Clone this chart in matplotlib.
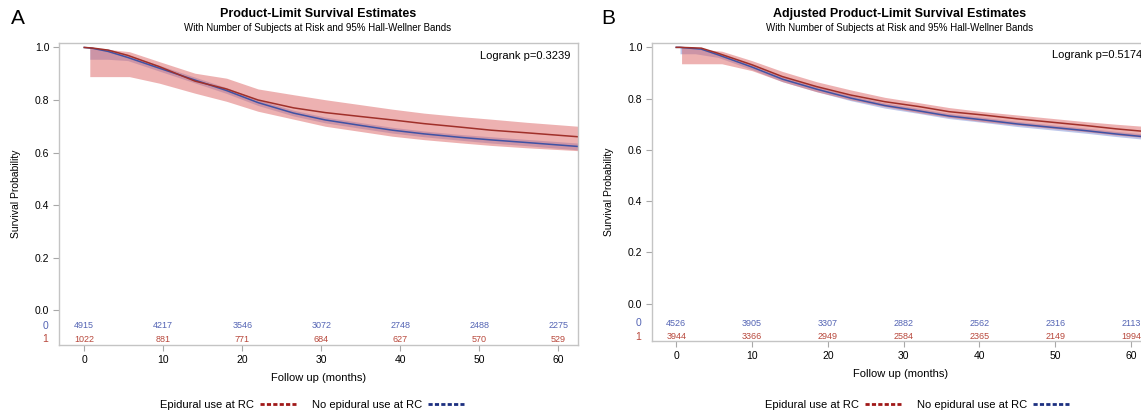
import matplotlib as mpl
mpl.use('Agg')

from matplotlib import pyplot as plt
from matplotlib.lines import Line2D

plt.rcParams['font.family'] = ['Liberation Sans', 'DejaVu Sans']

# Panel A: Product-Limit Survival Estimates
a_t = [0, 1, 3, 5.5, 9.5, 14, 18, 22, 26.5, 30.5, 35, 39, 43, 47.5, 51.5, 56, 62.5]
a_red = [1.0, 0.998, 0.99, 0.97, 0.927, 0.872, 0.842, 0.80, 0.77, 0.752, 0.737, 0.724, 0.71, 0.697, 0.685, 0.675, 0.66]
a_blue = [1.0, 0.997, 0.985, 0.962, 0.921, 0.876, 0.836, 0.79, 0.75, 0.724, 0.703, 0.685, 0.671, 0.658, 0.648, 0.638, 0.623]

a_red_band_t = [0.7, 5.7, 9.5, 14, 18, 22, 26.5, 30.5, 35, 39, 43, 47.5, 51.5, 56, 62.5]
a_red_hi = [1.0, 0.984, 0.946, 0.902, 0.883, 0.842, 0.82, 0.801, 0.782, 0.765, 0.75, 0.737, 0.727, 0.715, 0.70]
a_red_lo = [0.889, 0.889, 0.864, 0.826, 0.795, 0.757, 0.727, 0.70, 0.68, 0.662, 0.649, 0.637, 0.627, 0.618, 0.607]

a_blue_band_t = [0.7, 3, 5.5, 9.5, 14, 18, 22, 26.5, 30.5, 35, 39, 43, 47.5, 51.5, 56, 62.5]
a_blue_hi = [1.0, 0.995, 0.972, 0.932, 0.887, 0.847, 0.801, 0.761, 0.735, 0.714, 0.696, 0.682, 0.669, 0.66, 0.65, 0.636]
a_blue_lo = [0.955, 0.955, 0.95, 0.91, 0.865, 0.825, 0.779, 0.739, 0.713, 0.692, 0.674, 0.66, 0.647, 0.636, 0.626, 0.61]

a_risk_0 = [4915, 4217, 3546, 3072, 2748, 2488, 2275]
a_risk_1 = [1022, 881, 771, 684, 627, 570, 529]
a_p = 'Logrank p=0.3239'

# Panel B: Adjusted Product-Limit Survival Estimates
b_t = [0, 0.5, 3.3, 5.5, 10, 14, 18.5, 23, 27.5, 32, 36, 40.5, 45, 49.5, 54, 58, 62.5]
b_red = [1.0, 1.0, 0.997, 0.977, 0.932, 0.886, 0.847, 0.814, 0.788, 0.769, 0.749, 0.736, 0.721, 0.708, 0.695, 0.682, 0.67]
b_blue = [1.0, 1.0, 0.993, 0.971, 0.923, 0.876, 0.837, 0.802, 0.773, 0.752, 0.732, 0.717, 0.701, 0.688, 0.675, 0.662, 0.649]

b_red_band_t = [0.7, 6, 10, 14, 18.5, 23, 27.5, 32, 36, 40.5, 45, 49.5, 54, 58, 62.5]
b_red_hi = [1.0, 0.985, 0.948, 0.906, 0.866, 0.834, 0.805, 0.784, 0.765, 0.749, 0.736, 0.723, 0.71, 0.70, 0.69]
b_red_lo = [0.936, 0.936, 0.909, 0.866, 0.827, 0.795, 0.769, 0.745, 0.727, 0.71, 0.697, 0.684, 0.671, 0.658, 0.646]

b_blue_band_t = [0.5, 2.5, 5.5, 10, 14, 18.5, 23, 27.5, 32, 36, 40.5, 45, 49.5, 54, 58, 62.5]
b_blue_hi = [1.0, 0.998, 0.98, 0.933, 0.886, 0.847, 0.812, 0.783, 0.762, 0.742, 0.727, 0.711, 0.698, 0.685, 0.672, 0.66]
b_blue_lo = [0.975, 0.975, 0.961, 0.913, 0.866, 0.827, 0.792, 0.763, 0.742, 0.722, 0.707, 0.691, 0.678, 0.665, 0.652, 0.639]

b_risk_0 = [4526, 3905, 3307, 2882, 2562, 2316, 2113]
b_risk_1 = [3944, 3366, 2949, 2584, 2365, 2149, 1994]
b_p = 'Logrank p=0.5174'

risk_times = [0, 10, 20, 30, 40, 50, 60]

RED_LINE = '#a0302a'
BLUE_LINE = '#3f52a4'
RED_FILL = '#dc6464'
BLUE_FILL = '#7d8fd6'
RED_TXT = '#b8483c'
BLUE_TXT = '#5464b4'
GRAY = '#a8a8a8'

fig = plt.figure(figsize=(11.41, 4.13), dpi=100)


def draw_panel(ax, t, red, blue, rbt, rhi, rlo, bbt, bhi, blo, risk0, risk1, ptxt, ylo, row0, row1):
    ax.fill_between(bbt, blo, bhi, color=BLUE_FILL, alpha=0.5, lw=0)
    ax.fill_between(rbt, rlo, rhi, color=RED_FILL, alpha=0.5, lw=0)
    ax.plot(t, blue, color=BLUE_LINE, lw=1.1)
    ax.plot(t, red, color=RED_LINE, lw=1.1)

    # number at risk table inside the frame
    for x, n0, n1 in zip(risk_times, risk0, risk1):
        ax.text(x, row0, str(n0), color=BLUE_TXT, fontsize=6.5, ha='center', va='center')
        ax.text(x, row1, str(n1), color=RED_TXT, fontsize=6.5, ha='center', va='center')
    ax.text(-0.021, row0, '0', color=BLUE_TXT, fontsize=7.5, ha='right', va='center',
            transform=ax.get_yaxis_transform())
    ax.text(-0.021, row1, '1', color=RED_TXT, fontsize=7.5, ha='right', va='center',
            transform=ax.get_yaxis_transform())

    ax.text(0.985, 0.975, ptxt, transform=ax.transAxes, ha='right', va='top', fontsize=8)

    ax.set_xlim(-3.2, 62.5)
    ax.set_ylim(ylo, 1.017)
    ax.set_xticks(risk_times)
    ax.set_yticks([0.0, 0.2, 0.4, 0.6, 0.8, 1.0])
    ax.set_yticklabels(['0.0', '0.2', '0.4', '0.6', '0.8', '1.0'])
    ax.tick_params(labelsize=7.5, color=GRAY, length=4, width=0.8, pad=3)
    for s in ax.spines.values():
        s.set_color('#c4c4c4')
        s.set_linewidth(1)
    ax.set_xlabel('Follow up (months)', fontsize=8, labelpad=6)
    ax.set_ylabel('Survival Probability', fontsize=7.5, labelpad=10)


ax_a = fig.add_axes([59 / 1141, 1 - 345 / 413, 519 / 1141, 302 / 413])
draw_panel(ax_a, a_t, a_red, a_blue, a_red_band_t, a_red_hi, a_red_lo,
           a_blue_band_t, a_blue_hi, a_blue_lo, a_risk_0, a_risk_1, a_p,
           -0.133, -0.059, -0.112)

ax_b = fig.add_axes([652 / 1141, 1 - 341 / 413, 498 / 1141, 298 / 413])
draw_panel(ax_b, b_t, b_red, b_blue, b_red_band_t, b_red_hi, b_red_lo,
           b_blue_band_t, b_blue_hi, b_blue_lo, b_risk_0, b_risk_1, b_p,
           -0.146, -0.076, -0.13)

# titles
fig.text(318 / 1141, 1 - 14 / 413, 'Product-Limit Survival Estimates', ha='center', va='center',
         fontsize=9, fontweight='bold')
fig.text(318 / 1141, 1 - 28 / 413, 'With Number of Subjects at Risk and 95% Hall-Wellner Bands',
         ha='center', va='center', fontsize=7)
fig.text(900 / 1141, 1 - 14 / 413, 'Adjusted Product-Limit Survival Estimates', ha='center', va='center',
         fontsize=9, fontweight='bold')
fig.text(900 / 1141, 1 - 28 / 413, 'With Number of Subjects at Risk and 95% Hall-Wellner Bands',
         ha='center', va='center', fontsize=7)
fig.text(18 / 1141, 1 - 18 / 413, 'A', ha='center', va='center', fontsize=15)
fig.text(608 / 1141, 1 - 18 / 413, 'B', ha='center', va='center', fontsize=15)

# legends
handles = [Line2D([], [], color='#a01818', lw=2, dashes=(1.5, 0.8)),
           Line2D([], [], color='#1c2f80', lw=2, dashes=(1.5, 0.8))]
labels = ['Epidural use at RC', 'No epidural use at RC']
for cx in [312 / 1141, 917 / 1141]:
    fig.legend(handles, labels, loc='center', bbox_to_anchor=(cx, 1 - 405 / 413),
               ncol=2, frameon=False, fontsize=8, markerfirst=False,
               handlelength=3.2, handletextpad=0.5, columnspacing=1.5)

plt.savefig('out.png', dpi=100)
plt.close()
